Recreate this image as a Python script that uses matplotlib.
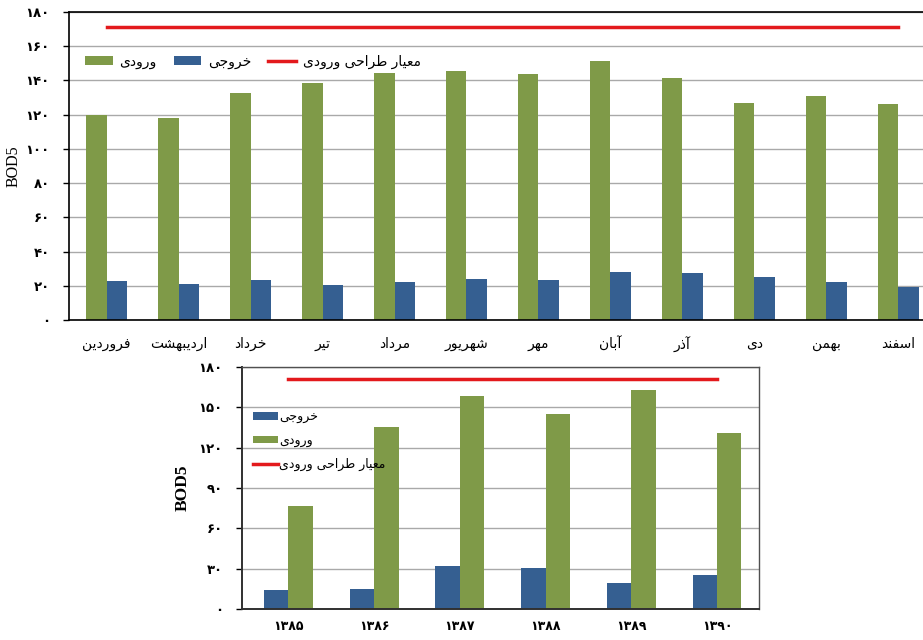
import numpy as np
import matplotlib.pyplot as plt
from matplotlib.ticker import FuncFormatter

# monthly BOD5 (average over the years)
months = ["فروردین", "اردیبهشت", "خرداد", "تیر", "مرداد", "شهریور",
          "مهر", "آبان", "آذر", "دی", "بهمن", "اسفند"]
monthly_in = [120.0, 118.2, 132.5, 138.7, 144.2, 145.8,
              143.6, 151.6, 141.7, 127.0, 131.1, 126.0]
monthly_out = [22.8, 21.3, 23.4, 20.3, 22.2, 23.8,
               23.2, 27.9, 27.3, 25.0, 22.4, 19.5]

# yearly BOD5
years = [1385, 1386, 1387, 1388, 1389, 1390]
yearly_out = [14.3, 15.3, 32.4, 30.4, 19.3, 25.2]
yearly_in = [76.9, 135.5, 158.5, 144.7, 162.7, 130.8]

design_in = 171

label_in = "ورودی"
label_out = "خروجی"
label_design = "معیار طراحی ورودی"

GREEN = "#7f9a48"
BLUE = "#355f91"
RED = "#e3191c"

# matplotlib has no Arabic shaping, so pick presentation forms by hand
# (isolated, final, initial, medial)
FORMS = {
    "ا": (0xFE8D, 0xFE8E, None, None),
    "آ": (0xFE81, 0xFE82, None, None),
    "ب": (0xFE8F, 0xFE90, 0xFE91, 0xFE92),
    "ت": (0xFE95, 0xFE96, 0xFE97, 0xFE98),
    "ج": (0xFE9D, 0xFE9E, 0xFE9F, 0xFEA0),
    "ح": (0xFEA1, 0xFEA2, 0xFEA3, 0xFEA4),
    "خ": (0xFEA5, 0xFEA6, 0xFEA7, 0xFEA8),
    "د": (0xFEA9, 0xFEAA, None, None),
    "ذ": (0xFEAB, 0xFEAC, None, None),
    "ر": (0xFEAD, 0xFEAE, None, None),
    "س": (0xFEB1, 0xFEB2, 0xFEB3, 0xFEB4),
    "ش": (0xFEB5, 0xFEB6, 0xFEB7, 0xFEB8),
    "ط": (0xFEC1, 0xFEC2, 0xFEC3, 0xFEC4),
    "ع": (0xFEC9, 0xFECA, 0xFECB, 0xFECC),
    "ف": (0xFED1, 0xFED2, 0xFED3, 0xFED4),
    "م": (0xFEE1, 0xFEE2, 0xFEE3, 0xFEE4),
    "ن": (0xFEE5, 0xFEE6, 0xFEE7, 0xFEE8),
    "ه": (0xFEE9, 0xFEEA, 0xFEEB, 0xFEEC),
    "و": (0xFEED, 0xFEEE, None, None),
    "ی": (0xFBFC, 0xFBFD, 0xFBFE, 0xFBFF),
}


def fa(text):
    out = []
    for i, c in enumerate(text):
        if c not in FORMS:
            out.append(c)
            continue
        prev = text[i - 1] if i > 0 else ""
        nxt = text[i + 1] if i + 1 < len(text) else ""
        join_prev = prev in FORMS and FORMS[prev][2] is not None
        join_next = FORMS[c][2] is not None and nxt in FORMS
        isol, fin, ini, med = FORMS[c]
        if join_prev and join_next:
            code = med
        elif join_prev:
            code = fin
        elif join_next:
            code = ini
        else:
            code = isol
        out.append(chr(code))
    return "".join(out)[::-1]


def fa_num(n):
    return str(int(round(n))).translate(str.maketrans("0123456789", "۰۱۲۳۴۵۶۷۸۹"))


plt.rcParams["font.family"] = ["DejaVu Sans"]

fig = plt.figure(figsize=(9.23, 6.4), dpi=100)
W, H = 923.0, 640.0

bw = 0.285

# ---- monthly chart ----
ax1 = fig.add_axes([69.3 / W, 1 - 320 / H, (934.2 - 69.3) / W, 308 / H])
x = np.arange(len(months))
b_in = ax1.bar(x - bw / 2, monthly_in, bw, color=GREEN, zorder=2)
b_out = ax1.bar(x + bw / 2, monthly_out, bw, color=BLUE, zorder=2)
l_des, = ax1.plot(x, [design_in] * len(x), color=RED, lw=2.5, zorder=3)
ax1.set_xlim(-0.52, 11.5)
ax1.set_ylim(0, 180)
ax1.set_yticks(np.arange(0, 181, 20))
ax1.yaxis.set_major_formatter(FuncFormatter(lambda v, p: fa_num(v)))
ax1.set_xticks(x)
ax1.set_xticklabels([fa(m) for m in months], fontsize=10)
ax1.tick_params(axis="x", length=0, pad=12)
ax1.tick_params(axis="y", length=4, width=1, direction="out", pad=10, labelsize=9.5)
for lab in ax1.get_yticklabels():
    lab.set_fontweight("bold")
ax1.yaxis.grid(True, color="#a9a9a9", lw=1)
ax1.set_axisbelow(True)
ax1.spines["right"].set_visible(False)
for s in ["left", "top", "bottom"]:
    ax1.spines[s].set_color("black")
    ax1.spines[s].set_linewidth(1.2)
ax1.set_ylabel("BOD5", family="Liberation Serif", fontsize=11.5, labelpad=3)
ax1.legend([b_in, b_out, l_des], [fa(label_in), fa(label_out), fa(label_design)],
           loc="center left", bbox_to_anchor=(0.018, 0.838), ncol=3, frameon=False,
           fontsize=10, borderpad=0, borderaxespad=0, handlelength=2.0,
           handleheight=0.6, handletextpad=0.5, columnspacing=1.2)

# ---- yearly chart ----
ax2 = fig.add_axes([242.3 / W, 1 - 609.3 / H, (759 - 242.3) / W, (609.3 - 366.7) / H])
xy = np.arange(len(years))
y_out = ax2.bar(xy - bw / 2, yearly_out, bw, color=BLUE, zorder=2)
y_in = ax2.bar(xy + bw / 2, yearly_in, bw, color=GREEN, zorder=2)
y_des, = ax2.plot(xy, [design_in] * len(xy), color=RED, lw=2.5, zorder=3)
ax2.set_xlim(-0.537, 5.49)
ax2.set_ylim(0, 180)
ax2.set_yticks(np.arange(0, 181, 30))
ax2.yaxis.set_major_formatter(FuncFormatter(lambda v, p: fa_num(v)))
ax2.set_xticks(xy)
ax2.set_xticklabels([fa_num(y) for y in years], fontsize=9, fontweight="bold")
ax2.tick_params(axis="x", length=0, pad=8)
ax2.tick_params(axis="y", length=4, width=1, direction="out", pad=10, labelsize=9.5)
for lab in ax2.get_yticklabels():
    lab.set_fontweight("bold")
ax2.yaxis.grid(True, color="#a9a9a9", lw=1)
ax2.set_axisbelow(True)
for s in ["left", "bottom"]:
    ax2.spines[s].set_color("#303030")
    ax2.spines[s].set_linewidth(1.4)
for s in ["top", "right"]:
    ax2.spines[s].set_color("#505050")
    ax2.spines[s].set_linewidth(1.0)
ax2.set_ylabel("BOD5", family="Liberation Serif", fontsize=12.5, fontweight="bold", labelpad=6)
ax2.legend([y_out, y_in, y_des], [fa(label_out), fa(label_in), fa(label_design)],
           loc="upper left", bbox_to_anchor=(0.0207, 0.82), ncol=1, frameon=False,
           fontsize=9, borderpad=0, borderaxespad=0, handlelength=2.0,
           handleheight=0.55, handletextpad=0.1, labelspacing=0.85)

fig.savefig("out.png", dpi=100)
